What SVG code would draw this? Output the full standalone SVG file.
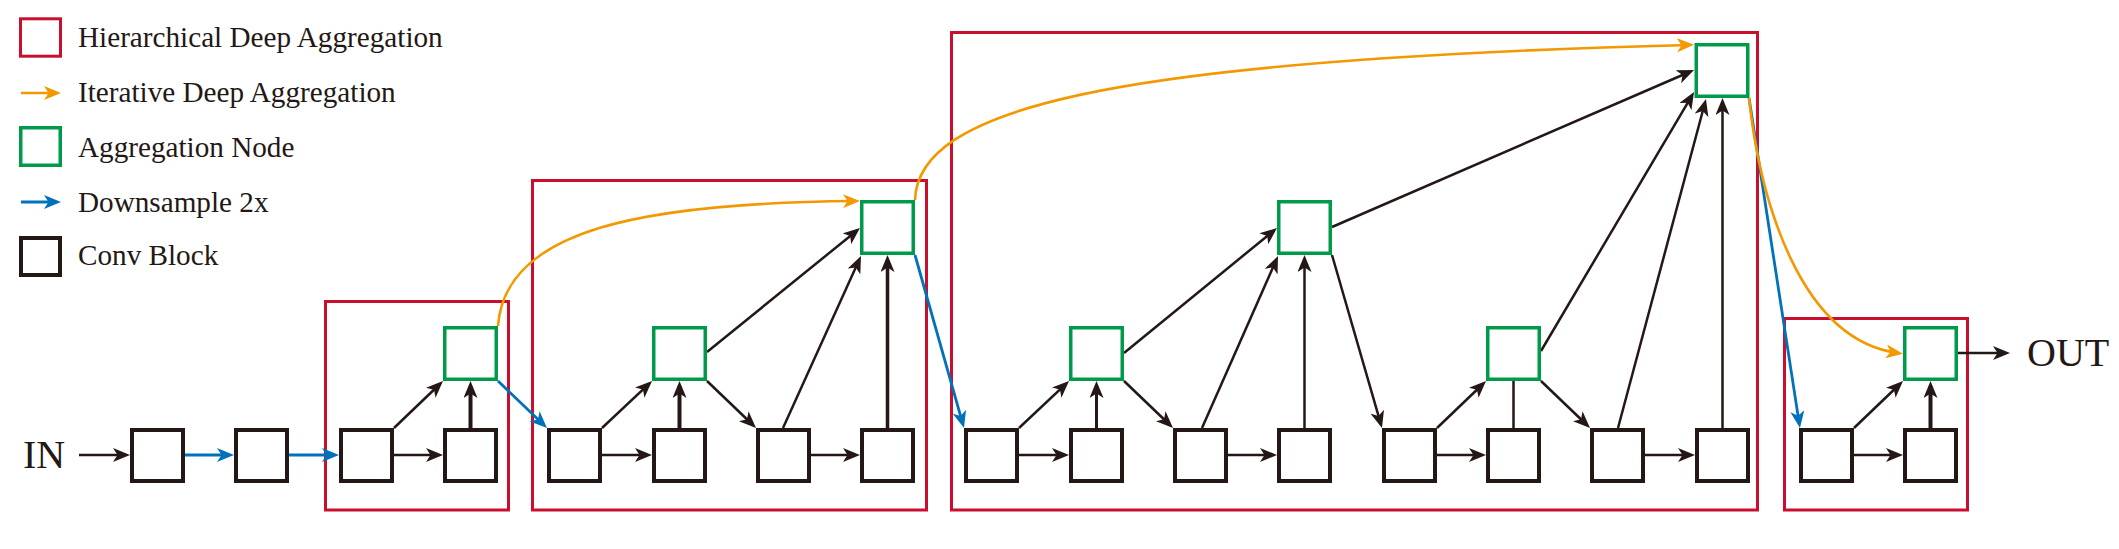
<svg xmlns="http://www.w3.org/2000/svg" width="2119" height="549" viewBox="0 0 2119 549">
<style>
text{font-family:"Liberation Serif","Times New Roman",serif;fill:#231815}
.leg{font-size:29.2px}
.io{font-size:40px}
.conv{fill:#fff;stroke:#231815;stroke-width:4}
.agg{fill:#fff;stroke:#009B4A;stroke-width:3.5}
.hda{fill:none;stroke:#C8102E;stroke-width:3}
.k{fill:none;stroke:#231815;stroke-width:2.5}
.kt{fill:none;stroke:#231815;stroke-width:4}
.b{fill:none;stroke:#0071BC;stroke-width:2.8}
.o{fill:none;stroke:#F39800;stroke-width:2.6}
.ka{marker-end:url(#ak)}
.ba{marker-end:url(#ab)}
.oa{marker-end:url(#ao)}
</style>
<defs>
<marker id="ak" markerUnits="userSpaceOnUse" viewBox="0 0 17 14" markerWidth="17" markerHeight="14" refX="12" refY="7" orient="auto"><path d="M0,0 L17,7 L0,14 L4.5,7 z" fill="#231815"/></marker>
<marker id="ab" markerUnits="userSpaceOnUse" viewBox="0 0 17 14" markerWidth="17" markerHeight="14" refX="12" refY="7" orient="auto"><path d="M0,0 L17,7 L0,14 L4.5,7 z" fill="#0071BC"/></marker>
<marker id="ao" markerUnits="userSpaceOnUse" viewBox="0 0 17 14" markerWidth="17" markerHeight="14" refX="12" refY="7" orient="auto"><path d="M0,0 L17,7 L0,14 L4.5,7 z" fill="#F39800"/></marker>
</defs>
<rect width="2119" height="549" fill="#fff"/>

<g id="legend" font-family="Liberation Serif, Times New Roman, serif">
<rect class="hda" x="20.5" y="18.8" width="40" height="37.4"/>
<text class="leg" x="78" y="47">Hierarchical Deep Aggregation</text>
<path class="o oa" d="M21,93 H56"/>
<text class="leg" x="78" y="102">Iterative Deep Aggregation</text>
<rect class="agg" x="20.75" y="127.75" width="39.5" height="37.5"/>
<text class="leg" x="78" y="157">Aggregation Node</text>
<path class="b ba" d="M21,202 H56"/>
<text class="leg" x="78" y="212">Downsample 2x</text>
<rect class="conv" x="21" y="238" width="39" height="37"/>
<text class="leg" x="78" y="265">Conv Block</text>
</g>

<g id="hda-frames">
<rect id="hda1" class="hda" x="325.5" y="301.5" width="183" height="208.5"/>
<rect id="hda2" class="hda" x="532.5" y="180.5" width="394" height="329.5"/>
<rect id="hda3" class="hda" x="951.5" y="32.5" width="806" height="477.5"/>
<rect id="hda4" class="hda" x="1784.5" y="318.5" width="183" height="191.5"/>
</g>

<g id="connectors">
<path class="k ka" d="M79,455 H125"/>
<path class="b ba" d="M185,455 H229"/>
<path class="b ba" d="M289,455 H334"/>
<path class="k ka" d="M394,455 H438"/>
<path class="k ka" d="M394,428 L439.4,384.5"/>
<path class="kt ka" d="M470.5,428 V386"/>
<path class="b ba" d="M498,381 L543.4,424.6"/>
<path class="o oa" d="M498,326 C505,230 640,203 855,201"/>
<path class="k ka" d="M602,455 H647"/>
<path class="k ka" d="M602,428 L648.4,384.4"/>
<path class="kt ka" d="M679.5,428 V386"/>
<path class="k ka" d="M707,381 L752.4,424.5"/>
<path class="k ka" d="M707,352 L856.1,231.2"/>
<path class="k ka" d="M783,428 L858.9,260.6"/>
<path class="k ka" d="M811,455 H855"/>
<path class="k ka" style="stroke-width:3.5" d="M887.5,428 V260"/>
<path class="b ba" d="M915,255 L962.6,423.2"/>
<path class="o oa" d="M915,200 C918,110 1100,60 1689,45"/>
<path class="k ka" d="M1019,455 H1064"/>
<path class="k ka" d="M1019,428 L1065.4,384.4"/>
<path class="k ka" style="stroke-width:3" d="M1096.5,428 V386"/>
<path class="k ka" d="M1124,381 L1169.4,424.5"/>
<path class="k ka" d="M1124,353 L1273.1,231.2"/>
<path class="k ka" d="M1202,428 L1276,260.6"/>
<path class="k ka" d="M1228,455 H1272"/>
<path class="k ka" d="M1304.5,428 V260"/>
<path class="k ka" d="M1332,255 L1380.6,423.2"/>
<path class="k ka" d="M1332,227 L1689.4,72"/>
<path class="k ka" d="M1437,455 H1481"/>
<path class="k ka" d="M1437,428 L1482.4,384.5"/>
<path class="k" d="M1513.5,428 V381"/>
<path class="k ka" d="M1541,381 L1586.4,424.5"/>
<path class="k ka" d="M1541,351 L1691.5,96.3"/>
<path class="k ka" d="M1618,428 L1704.7,103.8"/>
<path class="k ka" d="M1645,455 H1690"/>
<path class="k ka" d="M1722.5,428 V103"/>
<path class="b ba" d="M1749,98 L1799.2,423.1"/>
<path class="o oa" d="M1749,98 C1760,200 1800,340 1898,353"/>
<path class="k ka" d="M1854,455 H1898"/>
<path class="k ka" d="M1854,428 L1899.4,384.5"/>
<path class="kt ka" d="M1930.5,428 V386"/>
<path class="k ka" d="M1958,353 H2005"/>
</g>

<g id="nodes">
<g id="in"><text class="io" x="23" y="468" font-family="Liberation Serif, Times New Roman, serif">IN</text></g>
<g id="c0"><rect class="conv" x="132" y="430" width="51" height="51"/></g>
<g id="c1"><rect class="conv" x="236" y="430" width="51" height="51"/></g>
<g id="c2"><rect class="conv" x="341" y="430" width="51" height="51"/></g>
<g id="c3"><rect class="conv" x="445" y="430" width="51" height="51"/></g>
<g id="a1"><rect class="agg" x="444.75" y="327.75" width="51.5" height="51.5"/></g>
<g id="c4"><rect class="conv" x="549" y="430" width="51" height="51"/></g>
<g id="c5"><rect class="conv" x="654" y="430" width="51" height="51"/></g>
<g id="c6"><rect class="conv" x="758" y="430" width="51" height="51"/></g>
<g id="c7"><rect class="conv" x="862" y="430" width="51" height="51"/></g>
<g id="a2"><rect class="agg" x="653.75" y="327.75" width="51.5" height="51.5"/></g>
<g id="a3"><rect class="agg" x="861.75" y="201.75" width="51.5" height="51.5"/></g>
<g id="c8"><rect class="conv" x="966" y="430" width="51" height="51"/></g>
<g id="c9"><rect class="conv" x="1071" y="430" width="51" height="51"/></g>
<g id="c10"><rect class="conv" x="1175" y="430" width="51" height="51"/></g>
<g id="c11"><rect class="conv" x="1279" y="430" width="51" height="51"/></g>
<g id="c12"><rect class="conv" x="1384" y="430" width="51" height="51"/></g>
<g id="c13"><rect class="conv" x="1488" y="430" width="51" height="51"/></g>
<g id="c14"><rect class="conv" x="1592" y="430" width="51" height="51"/></g>
<g id="c15"><rect class="conv" x="1697" y="430" width="51" height="51"/></g>
<g id="a4"><rect class="agg" x="1070.75" y="327.75" width="51.5" height="51.5"/></g>
<g id="a5"><rect class="agg" x="1278.75" y="201.75" width="51.5" height="51.5"/></g>
<g id="a6"><rect class="agg" x="1487.75" y="327.75" width="51.5" height="51.5"/></g>
<g id="a7"><rect class="agg" x="1696.25" y="44.75" width="51.5" height="51.5"/></g>
<g id="c16"><rect class="conv" x="1801" y="430" width="51" height="51"/></g>
<g id="c17"><rect class="conv" x="1905" y="430" width="51" height="51"/></g>
<g id="a8"><rect class="agg" x="1904.75" y="327.75" width="51.5" height="51.5"/></g>
<g id="out"><text class="io" x="2027" y="366" font-family="Liberation Serif, Times New Roman, serif">OUT</text></g>
</g>
</svg>
